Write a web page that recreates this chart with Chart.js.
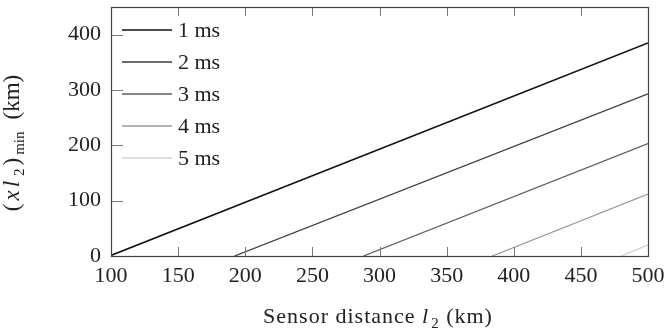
<!DOCTYPE html>
<html>
<head>
<meta charset="utf-8">
<script src="https://cdn.jsdelivr.net/npm/chart.js@4"></script>
<style>
  html, body { margin: 0; padding: 0; background: #fff; }
  #wrap { width: 668px; height: 332px; }
</style>
</head>
<body>
<div id="wrap"><canvas id="chart" width="668" height="332"></canvas></div>
<script>
// Series: end points (distance l2, km -> (xl2)min, km)
const labels = ["1 ms", "2 ms", "3 ms", "4 ms", "5 ms"]
const xValues = [
  [100, 500],
  [192, 500],
  [288, 500],
  [384, 500],
  [480, 500],
]
const yValues = [
  [1, 385],
  [0, 293],
  [0, 203],
  [0, 112],
  [0, 20],
]
const xTicks = [100, 150, 200, 250, 300, 350, 400, 450, 500]
const yTicks = [0, 100, 200, 300, 400]

const colors = ["#111111", "#3a3a3a", "#5e5e5e", "#9a9a9a", "#d2d2d2"]
const widths = [1.6, 1.3, 1.3, 1.3, 1.3]
const serif = "'Liberation Serif', 'DejaVu Serif', serif"

const datasets = labels.map((label, i) => ({
  label: label,
  data: xValues[i].map((x, j) => ({ x: x, y: yValues[i][j] })),
  borderColor: colors[i],
  borderWidth: widths[i],
  pointRadius: 0,
  fill: false,
  tension: 0,
}))

// draws pieces of text one after another, returns total width
function runText(ctx, parts, x, y, draw) {
  let w = 0
  parts.forEach(p => {
    ctx.font = p[1]
    if (draw) ctx.fillText(p[0], x + w, y + p[2])
    w += ctx.measureText(p[0]).width + (p[3] || 0)
  })
  return w
}

// frame, inward ticks, legend and axis titles
const decor = {
  id: "decor",
  afterDraw(chart) {
    const ctx = chart.ctx
    const a = chart.chartArea
    const xs = chart.scales.x
    const ys = chart.scales.y
    ctx.save()
    ctx.strokeStyle = "#7a7a7a"
    ctx.lineWidth = 1
    xTicks.forEach(v => {
      const px = Math.round(xs.getPixelForValue(v)) + 0.5
      ctx.beginPath()
      ctx.moveTo(px, a.bottom); ctx.lineTo(px, a.bottom - 9)
      ctx.moveTo(px, a.top); ctx.lineTo(px, a.top + 9)
      ctx.stroke()
    })
    yTicks.forEach(v => {
      const py = Math.round(ys.getPixelForValue(v)) + 0.5
      ctx.beginPath()
      ctx.moveTo(a.left, py); ctx.lineTo(a.left + 12, py)
      ctx.stroke()
    })
    ctx.strokeStyle = "#444"
    ctx.lineWidth = 1.2
    ctx.strokeRect(Math.round(a.left) + 0.5, Math.round(a.top) + 0.5,
      Math.round(a.right - a.left), Math.round(a.bottom - a.top))

    // legend
    ctx.font = "22px " + serif
    ctx.textBaseline = "middle"
    ctx.fillStyle = "#222"
    labels.forEach((label, i) => {
      const y = 30 + i * 32
      ctx.strokeStyle = colors[i]
      ctx.lineWidth = widths[i]
      ctx.beginPath()
      ctx.moveTo(a.left + 11, y); ctx.lineTo(a.left + 61, y)
      ctx.stroke()
      ctx.fillText(label, a.left + 67, y + 1)
    })

    // x title
    ctx.textBaseline = "alphabetic"
    ctx.letterSpacing = "1px"
    const xparts = [
      ["Sensor distance ", "22px " + serif, 0, 0],
      ["l", "italic 22px " + serif, 0, 2],
      ["2", "15px " + serif, 5, 0],
      [" (km)", "22px " + serif, 0, 0],
    ]
    const xw = runText(ctx, xparts, 0, 0, false)
    runText(ctx, xparts, 378 - xw / 2, 323, true)

    // y title
    ctx.letterSpacing = "0px"
    ctx.translate(19, 143)
    ctx.rotate(-Math.PI / 2)
    const yparts = [
      ["(", "23px " + serif, 0, 3],
      ["x", "italic 23px " + serif, 0, 3],
      ["l", "italic 23px " + serif, 0, 5],
      ["2", "15px " + serif, 5, 3],
      [")", "23px " + serif, 0, 3],
      ["min", "15px " + serif, 5, 12],
      ["(km)", "23px " + serif, 0, 0],
    ]
    const yw = runText(ctx, yparts, 0, 0, false)
    runText(ctx, yparts, -yw / 2, 0, true)
    ctx.restore()
  },
}

new Chart(document.getElementById("chart"), {
  type: "line",
  data: { datasets: datasets },
  options: {
    responsive: false,
    animation: false,
    layout: { padding: { top: 7, right: 20, left: 0, bottom: 0 } },
    plugins: { legend: { display: false }, tooltip: { enabled: false } },
    scales: {
      x: {
        type: "linear",
        min: 100,
        max: 500,
        afterBuildTicks: s => { s.ticks = xTicks.map(v => ({ value: v })) },
        afterFit: s => { s.height = 76; s.paddingLeft = 0; s.paddingRight = 0 },
        grid: { display: false, drawTicks: false },
        border: { display: false },
        ticks: { color: "#222", padding: 7, font: { family: serif, size: 22 }, maxRotation: 0 },
      },
      y: {
        min: 0,
        max: 450,
        afterBuildTicks: s => { s.ticks = yTicks.map(v => ({ value: v })) },
        afterFit: s => { s.width = 111; s.paddingTop = 0; s.paddingBottom = 0 },
        grid: { display: false, drawTicks: false },
        border: { display: false },
        ticks: { color: "#222", padding: 10, font: { family: serif, size: 22 } },
      },
    },
  },
  plugins: [decor],
})
</script>
</body>
</html>
